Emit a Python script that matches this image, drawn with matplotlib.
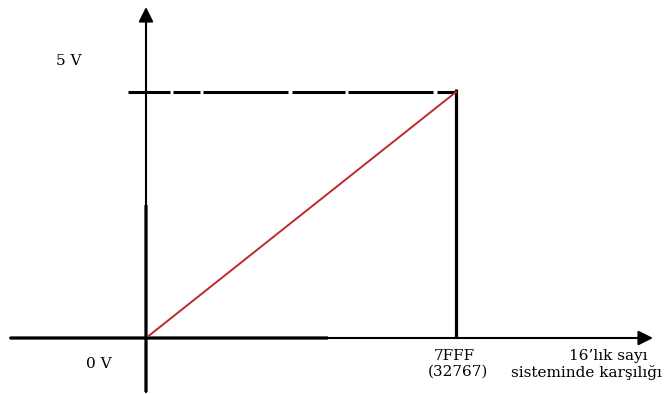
import matplotlib
matplotlib.use("Agg")
import matplotlib.pyplot as plt

# data
x_max = 0x7FFF          # 32767
v_min, v_max = 0, 5
line_x = [0, x_max]
line_v = [v_min, v_max]
y_labels = ["0 V", "5 V"]
x_label_top = "7FFF"
x_label_bot = "(32767)"
axis_title = ["16\u2019lık sayı", "sisteminde karşılığı"]

fig = plt.figure(figsize=(6.72, 3.94), dpi=100)
ax = fig.add_axes([0, 0, 1, 1])
# pixel mapping: x 0 -> 146px, 32767 -> 456px ; y 0 -> 338px, 5 -> 92px
sx = x_max / 310.0
sy = v_max / 246.0
ax.set_xlim(-146 * sx, (672 - 146) * sx)
ax.set_ylim(-(394 - 338) * sy, 338 * sy)
ax.axis("off")

plt.rcParams['font.family'] = ['DejaVu Serif']
fs = 11

# axes with arrows
ax.annotate("", xy=(0, 331 * sy), xytext=(0, -1.1),
            arrowprops=dict(arrowstyle="-|>", lw=1.5, color="black",
                            mutation_scale=22, shrinkA=0, shrinkB=0))
ax.annotate("", xy=(507 * sx, 0), xytext=(-136 * sx, 0),
            arrowprops=dict(arrowstyle="-|>", lw=1.5, color="black",
                            mutation_scale=22, shrinkA=0, shrinkB=0))
# thicker parts
ax.plot([0, 0], [-54 * sy, 133 * sy], color="black", lw=2.3,
        solid_capstyle="butt", snap=False)
ax.plot([-136 * sx, 182 * sx], [0, 0], color="black", lw=2.3,
        solid_capstyle="butt", snap=False)

# 5 V dashed level line and vertical line at 7FFF
lw_d = 2.2
px_pattern = [42, 3, 27, 3, 85, 4, 53, 3, 85, 4, 30, 1]
dash = tuple(v * 0.72 / lw_d for v in px_pattern)
ax.plot([-18 * sx, x_max], [v_max, v_max], color="black", lw=lw_d,
        linestyle=(0, dash), dash_capstyle="butt")
ax.plot([x_max, x_max], [0, v_max + 3 * sy], color="black", lw=2.3,
        solid_capstyle="butt")

# red ramp
ax.plot(line_x, line_v, color="#c0282f", lw=1.4)

# labels
ax.text(-77 * sx, v_max + 31 * sy, y_labels[1], fontsize=fs, ha="center", va="center")
ax.text(-47 * sx, -26 * sy, y_labels[0], fontsize=fs, ha="center", va="center")
ax.text(x_max - 2 * sx, -18 * sy, x_label_top, fontsize=fs, ha="center", va="center")
ax.text(x_max + 1.5 * sx, -34 * sy, x_label_bot, fontsize=fs, ha="center", va="center")
ax.text(462 * sx, -18 * sy, axis_title[0], fontsize=fs, ha="center", va="center")
ax.text(440 * sx, -34 * sy, axis_title[1], fontsize=fs, ha="center", va="center")

fig.savefig("out.png", dpi=100)
